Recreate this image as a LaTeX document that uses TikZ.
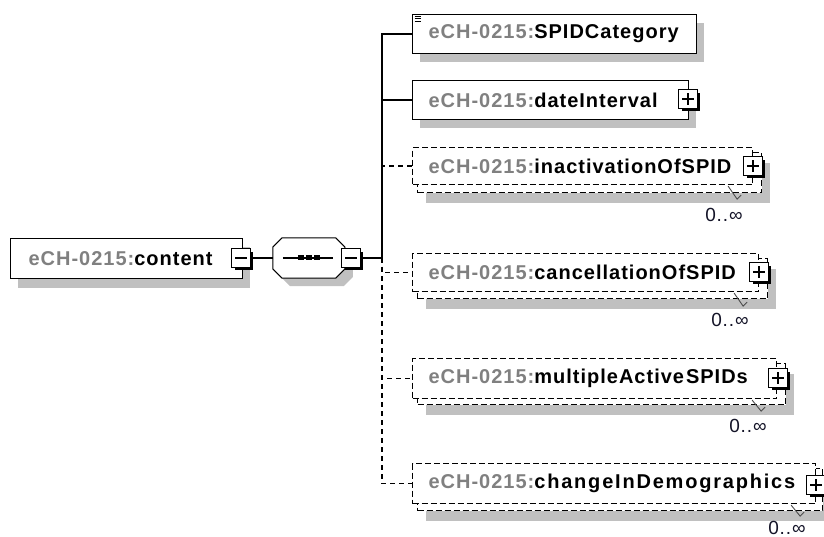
\documentclass[tikz,border=0pt]{standalone}
\usepackage{fontspec}
\setmainfont{Liberation Sans}
\newfontfamily\elfontfam[LetterSpace=5]{Liberation Sans}
\newcommand\elfont{\elfontfam\bfseries\fontsize{20}{24}\selectfont}
\newcommand\multfont{\elfontfam\fontsize{19}{22}\selectfont}
\newcommand\pfx{{\color{prefixgray}eCH-0215:}}
\usetikzlibrary{shadows}
\definecolor{prefixgray}{RGB}{128,128,128}
\definecolor{shadowgray}{RGB}{192,192,192}
\definecolor{multcol}{RGB}{20,20,40}
\tikzset{
  elbox/.style={draw=black, line width=1pt, fill=white, anchor=north west,
    inner xsep=16pt, inner ysep=0pt, align=left, font=\elfont},
  elshadow/.style={drop shadow={shadow xshift=7pt, shadow yshift=-9pt, fill=shadowgray, opacity=1}},
  repshadow/.style={drop shadow={shadow xshift=8pt, shadow yshift=-10pt, fill=shadowgray, opacity=1}},
  dashbox/.style={elbox, line width=1.1pt, dash pattern=on 6pt off 3pt},
  pmbase/.style={draw=black, fill=white, minimum size=18.5pt, inner sep=0pt, line width=1.1pt,
    drop shadow={shadow xshift=3pt, shadow yshift=-3pt, fill=black, opacity=1}},
  minusbox/.style={pmbase, path picture={
      \draw[line width=1.1pt] ([xshift=3.5pt]path picture bounding box.west) -- ([xshift=-3.5pt]path picture bounding box.east);}},
  plusbox/.style={pmbase, path picture={
      \draw[line width=1.1pt] ([xshift=3.5pt]path picture bounding box.west) -- ([xshift=-3.5pt]path picture bounding box.east);
      \draw[line width=1.1pt] ([yshift=-3.5pt]path picture bounding box.north) -- ([yshift=3.5pt]path picture bounding box.south);}},
  conn/.style={line width=1.3pt},
  dconn/.style={line width=1.3pt, dash pattern=on 5pt off 4pt},
  mult/.style={font=\multfont, text=multcol, inner sep=0pt},
  fan/.style={line width=0.9pt, draw=black!70}
}
\begin{document}
\begin{tikzpicture}[x=1pt,y=-1pt]
\fill[white] (0,0) rectangle (824,537);
\useasboundingbox (0,0) rectangle (824,537);

% root element
\node[elbox, elshadow, minimum width=232pt, minimum height=40pt, inner xsep=18pt, text width=196pt] (content) at (10,238) {\pfx content};
\node[minusbox] (cminus) at (241,258) {};

% sequence compositor
\node[minimum width=72pt, minimum height=40pt, inner sep=0pt] (seq) at (309,258) {};
\fill[shadowgray] ([shift={(8,8)}]seq.west) -- ++(0,-11) -- ++(9,-9) -- ++(54,0) -- ++(9,9) -- ++(0,22) -- ++(-9,9) -- ++(-54,0) -- ++(-9,-9) -- cycle;
\draw[line width=1pt, fill=white] (seq.west) -- ++(0,-11) -- ++(9,-9) -- ++(54,0) -- ++(9,9) -- ++(0,22) -- ++(-9,9) -- ++(-54,0) -- ++(-9,-9) -- cycle;
\draw[line width=1.3pt] ([xshift=10pt]seq.west) -- ([xshift=-12pt]seq.east);
\foreach \dx in {-11,-3,5} \fill ([shift={(\dx,2.5)}]seq.center) rectangle ++(6,-5);
\node[minusbox] (sminus) at (351,258) {};
\draw[conn] (cminus.east) -- (seq.west);

\coordinate (trunk) at (382,258);
\draw[conn] (sminus.east) -- (trunk);

% SPIDCategory
\node[elbox, elshadow, minimum width=284pt, minimum height=39pt, text width=252pt] (spid) at (412,14) {\pfx SPIDCategory};
\foreach \dy in {2.5,5,7.5} \draw[line width=1pt] ([shift={(2.5,\dy)}]spid.north west) -- ++(6.5,0);

% dateInterval
\node[elbox, elshadow, minimum width=276pt, minimum height=39pt, text width=244pt] (date) at (412,80) {\pfx dateInterval};
\node[plusbox] (dplus) at (688,99) {};

% inactivationOfSPID
\node[dashbox, repshadow, minimum width=344pt, minimum height=40pt, text width=312pt] (inactB) at (417,152) {};
\node[dashbox, minimum width=340pt, minimum height=37pt, text width=308pt] (inact) at (412,147) {\pfx inactivationOfSPID};
\node[plusbox] (iplus) at (753,166) {};
\draw[fan] ([shift={(-25,1)}]inact.south east) -- ++(9,13) -- ++(4,-4);
\node[mult] (im) at (724,215) {0..∞};

% cancellationOfSPID
\node[dashbox, repshadow, minimum width=350pt, minimum height=40pt, text width=318pt] (cancB) at (417,258) {};
\node[dashbox, minimum width=346pt, minimum height=38pt, text width=314pt] (canc) at (412,253) {\pfx cancellationOfSPID};
\node[plusbox] (cplus) at (759,272) {};
\draw[fan] ([shift={(-25,1)}]canc.south east) -- ++(9,13) -- ++(4,-4);
\node[mult] (cm) at (730,320) {0..∞};

% multipleActiveSPIDs
\node[dashbox, repshadow, minimum width=368pt, minimum height=41pt, text width=336pt] (multB) at (417,363) {};
\node[dashbox, minimum width=364pt, minimum height=40pt, text width=332pt] (multi) at (412,358) {\pfx multipleActive\kern2pt SPIDs};
\node[plusbox] (mplus) at (778,378) {};
\draw[fan] ([shift={(-25,1)}]multi.south east) -- ++(9,11) -- ++(4,-4);
\node[mult] (mm) at (748,426) {0..∞};

% changeInDemographics
\node[dashbox, repshadow, minimum width=405pt, minimum height=42pt, text width=373pt] (chgB) at (417,468) {};
\node[dashbox, minimum width=403pt, minimum height=40pt, text width=371pt] (chg) at (412,463) {\pfx{\addfontfeature{LetterSpace=9}changeInDemographics}};
\node[plusbox] (chplus) at (816,485) {};
\draw[fan] ([shift={(-25,1)}]chg.south east) -- ++(9,11) -- ++(4,-4);
\node[mult] (chm) at (787,528) {0..∞};

% connectors from sequence
\draw[conn] (trunk) |- (spid.west);
\draw[conn] (trunk) |- (date.west);
\draw[dconn] (trunk) |- (inact.west);
\draw[dconn] (trunk) |- (canc.west);
\draw[dconn] (trunk) |- (multi.west);
\draw[dconn] (trunk) |- (chg.west);
\end{tikzpicture}
\end{document}
